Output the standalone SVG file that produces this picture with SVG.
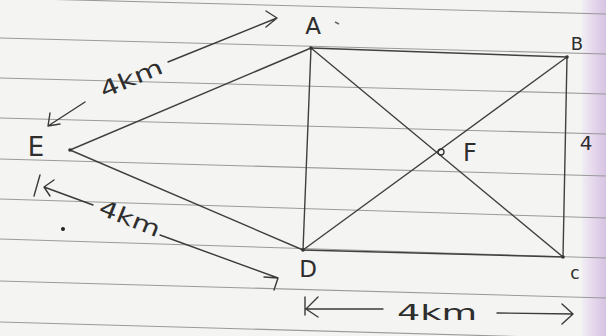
<svg xmlns="http://www.w3.org/2000/svg" width="606" height="336" viewBox="0 0 606 336">
  <defs>
    <linearGradient id="edge" x1="0" y1="0" x2="1" y2="0">
      <stop offset="0" stop-color="#f1eef3"/>
      <stop offset="0.5" stop-color="#e4d6ec"/>
      <stop offset="1" stop-color="#d6c3e2"/>
    </linearGradient>
    <style>
      .rule { stroke: #9a9a9a; stroke-width: 1.1; fill: none; }
      .edge { stroke: #404040; stroke-width: 1.4; fill: none; stroke-linecap: round; }
      .dim { stroke: #3a3a3a; stroke-width: 1.4; fill: none; stroke-linecap: round; stroke-linejoin: round; }
      .lbl { font-family: "DejaVu Sans", "Liberation Sans", sans-serif; fill: #2e2e2e; }
      .v { fill: #333; }
    </style>
  </defs>

  <!-- paper -->
  <rect x="0" y="0" width="606" height="336" fill="#f4f4f2"/>
  <rect x="582" y="0" width="24" height="336" fill="url(#edge)"/>

  <!-- ruled lines -->
  <g id="rules" class="rule">
    <line x1="0" y1="-2" x2="606" y2="14"/>
    <line x1="0" y1="38" x2="606" y2="54"/>
    <line x1="0" y1="78" x2="606" y2="94"/>
    <line x1="0" y1="118" x2="606" y2="134"/>
    <line x1="0" y1="159" x2="606" y2="176"/>
    <line x1="0" y1="199" x2="606" y2="218"/>
    <line x1="0" y1="239" x2="606" y2="258"/>
    <line x1="0" y1="281" x2="606" y2="298"/>
    <line x1="0" y1="322" x2="606" y2="339"/>
  </g>
  <circle cx="63" cy="229" r="2" fill="#222"/>

  <!-- connectors -->
  <g id="connectors" class="edge">
    <line x1="70" y1="150" x2="311" y2="48"/>
    <line x1="70" y1="150" x2="303" y2="250"/>
    <line x1="311" y1="48" x2="567" y2="57"/>
    <line x1="567" y1="57" x2="563" y2="257"/>
    <line x1="563" y1="257" x2="303" y2="250"/>
    <line x1="311" y1="48" x2="303" y2="250"/>
    <line x1="311" y1="48" x2="563" y2="257"/>
    <line x1="567" y1="57" x2="303" y2="250"/>
  </g>

  <!-- nodes -->
  <g id="A">
    <circle class="v" cx="311" cy="48" r="1.8"/>
    <text class="lbl" x="313" y="34" font-size="23" text-anchor="middle">A</text>
    <line x1="335" y1="22" x2="339" y2="24" stroke="#666" stroke-width="1.5"/>
  </g>
  <g id="B">
    <circle class="v" cx="567" cy="57" r="1.8"/>
    <text class="lbl" x="577" y="50" font-size="18" text-anchor="middle">B</text>
  </g>
  <g id="C">
    <circle class="v" cx="563" cy="257" r="1.8"/>
    <text class="lbl" x="575" y="279" font-size="17" text-anchor="middle">c</text>
  </g>
  <g id="D">
    <circle class="v" cx="303" cy="250" r="1.8"/>
    <text class="lbl" x="308" y="277" font-size="23" text-anchor="middle">D</text>
  </g>
  <g id="E">
    <circle class="v" cx="70" cy="150" r="1.8"/>
    <text class="lbl" x="36" y="156" font-size="26" text-anchor="middle">E</text>
  </g>
  <g id="F">
    <circle cx="441" cy="152" r="3" fill="none" stroke="#333" stroke-width="1.3"/>
    <text class="lbl" x="470" y="161" font-size="24" text-anchor="middle">F</text>
  </g>

  <!-- dimension labels -->
  <g id="dim-EA">
    <path class="dim" d="M168 62 L277 18 M266 11 L277 18 L266 27"/>
    <path class="dim" d="M85 102 L48 126 M50 113 L48 126 L60 124"/>
    <text class="lbl" x="98" y="86" font-size="22" textLength="66" lengthAdjust="spacingAndGlyphs" transform="rotate(-23 131 78)">4km</text>
  </g>
  <g id="dim-ED">
    <path class="dim" d="M93 205 L44 187 M40 175 L34 196 M54 180 L44 187 L50 196"/>
    <path class="dim" d="M160 235 L278 278 M264 277 L278 278 L274 290"/>
    <text class="lbl" x="98" y="226" font-size="22" textLength="64" lengthAdjust="spacingAndGlyphs" transform="rotate(22 130 218)">4km</text>
  </g>
  <g id="dim-BC">
    <text class="lbl" x="586" y="150" font-size="20" text-anchor="middle">4</text>
  </g>
  <g id="dim-DC">
    <path class="dim" d="M305 309 L383 309 M305 297 L305 315 M318 297 L306 309 L318 317"/>
    <path class="dim" d="M497 313 L573 314 M562 304 L573 314 L562 324"/>
    <text class="lbl" x="397" y="320" font-size="22" textLength="80" lengthAdjust="spacingAndGlyphs">4km</text>
  </g>
</svg>
